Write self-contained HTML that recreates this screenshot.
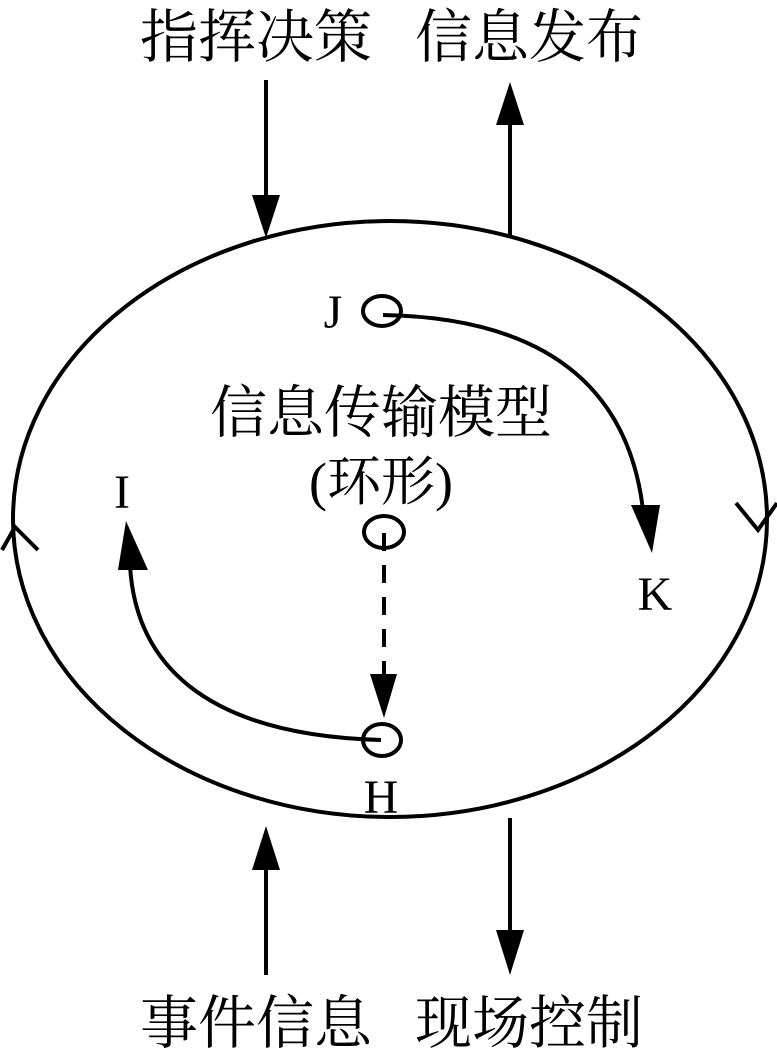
<!DOCTYPE html>
<html><head><meta charset="utf-8"><style>
html,body{margin:0;padding:0;background:#fff;width:777px;height:1054px;overflow:hidden}
svg text{font-family:"Liberation Serif","Noto Serif CJK SC","Noto Sans CJK SC",serif;fill:#000}
</style></head><body>
<svg width="777" height="1054" viewBox="0 0 777 1054" xmlns="http://www.w3.org/2000/svg">
<g fill="none" stroke="#000" stroke-width="4">
<ellipse cx="390" cy="519" rx="377" ry="298"/>
<ellipse cx="382" cy="311" rx="19" ry="15"/>
<ellipse cx="384" cy="532" rx="20" ry="16"/>
<ellipse cx="382" cy="740" rx="19" ry="16"/>
<path d="M383,315 C560,318 630,400 643,510"/>
<path d="M381,740 C200,735 135,660 130,565"/>
<line x1="384" y1="533" x2="384" y2="676" stroke-dasharray="18,14"/>
<line x1="266" y1="80" x2="266" y2="200"/>
<line x1="510" y1="235" x2="510" y2="120"/>
<line x1="266" y1="975" x2="266" y2="860"/>
<line x1="510" y1="818" x2="510" y2="935"/>
<polyline points="2,550 15,527 38,550"/>
<polyline points="736,503 758,530 777,503"/>
</g>
<g fill="#000">
<polygon points="631,505 660,505 652,553"/>
<polygon points="118,570 148,570 126,521"/>
<polygon points="370,674 397,674 384,718"/>
<polygon points="252,195 280,195 266,238"/>
<polygon points="496,125 524,125 510,82"/>
<polygon points="252,870 280,870 266,826"/>
<polygon points="496,930 524,930 510,975"/>
</g>
<text x="140" y="57" font-size="58" textLength="232" lengthAdjust="spacingAndGlyphs">指挥决策</text>
<text x="415" y="57" font-size="58" textLength="228" lengthAdjust="spacingAndGlyphs">信息发布</text>
<text x="140" y="1043" font-size="58" textLength="232" lengthAdjust="spacingAndGlyphs">事件信息</text>
<text x="415" y="1043" font-size="58" textLength="228" lengthAdjust="spacingAndGlyphs">现场控制</text>
<text x="381" y="432" font-size="57" text-anchor="middle">信息传输模型</text>
<text x="381" y="500" font-size="54" text-anchor="middle">(环形)</text>
<text x="333" y="328" font-size="48" text-anchor="middle">J</text>
<text x="122" y="508" font-size="48" text-anchor="middle">I</text>
<text x="655" y="610" font-size="48" text-anchor="middle">K</text>
<text x="381" y="813" font-size="48" text-anchor="middle">H</text>
</svg>
</body></html>
